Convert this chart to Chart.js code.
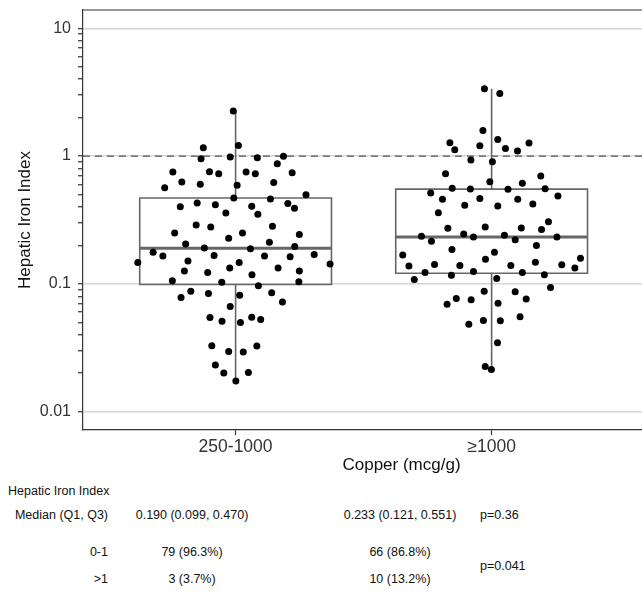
<!DOCTYPE html>
<html>
<head>
<meta charset="utf-8">
<script src="https://cdn.jsdelivr.net/npm/chart.js@4.4.1/dist/chart.umd.min.js"></script>
<style>
body { margin: 0; background: #fff; font-family: "Liberation Sans", Arial, sans-serif; overflow: hidden; }
#wrap { position: relative; width: 642px; height: 592px; overflow: hidden; }
#hiiChart { display: block; }
.t { position: absolute; font-size: 12.5px; line-height: 15px; color: #111; white-space: nowrap; }
.lab { left: 0; width: 108px; text-align: right; }
.c1 { left: 92px; width: 200px; text-align: center; }
.c2 { left: 300px; width: 200px; text-align: center; }
.p { left: 480px; }
</style>
</head>
<body>
<div id="wrap">
<canvas id="hiiChart" width="720" height="480"></canvas>
<div class="t" style="left:8px; top:484px;">Hepatic Iron Index</div>
<div class="t lab" style="top:508px;">Median (Q1, Q3)</div>
<div class="t c1" style="top:508px;">0.190 (0.099, 0.470)</div>
<div class="t c2" style="top:508px;">0.233 (0.121, 0.551)</div>
<div class="t p" style="top:508px;">p=0.36</div>
<div class="t lab" style="top:545px;">0-1</div>
<div class="t c1" style="top:545px;">79 (96.3%)</div>
<div class="t c2" style="top:545px;">66 (86.8%)</div>
<div class="t p" style="top:559px;">p=0.041</div>
<div class="t lab" style="top:572px;">&gt;1</div>
<div class="t c1" style="top:572px;">3 (3.7%)</div>
<div class="t c2" style="top:572px;">10 (13.2%)</div>
</div>
<script>
const categories = ['250-1000', '≥1000'];

// box summaries per group
const boxQ1 = [0.099, 0.121];
const boxMedian = [0.190, 0.233];
const boxQ3 = [0.470, 0.551];
const whiskerLow = [0.0174, 0.0214];
const whiskerHigh = [2.25, 3.36];

// y axis
const yMajorTicks = [0.01, 0.1, 1, 10];
const yMin = 0.00719;
const yMax = 13.9;
const refLine = 1;

// 250-1000 group: horizontal jitter (category units) and hepatic iron index
const lowCuJitter = [
  -0.009, -0.126, 0.011, -0.135, -0.021, 0.085, 0.187, 0.163, -0.245, -0.102,
  -0.066, 0.041, 0.077, 0.221, -0.210, -0.138, 0.006, 0.149, -0.277, 0.275,
  -0.007, 0.136, -0.216, -0.150, -0.079, 0.204, 0.230, -0.038, 0.063, 0.087,
  -0.154, -0.097, -0.238, -0.027, 0.027, 0.144, 0.249, -0.195, -0.122, 0.058,
  0.132, 0.231, -0.322, -0.284, -0.084, 0.113, 0.213, 0.307, -0.382, -0.186,
  0.014, -0.023, 0.369, -0.200, -0.109, 0.064, 0.166, 0.249, -0.247, -0.054,
  0.089, 0.247, -0.213, -0.175, -0.106, 0.016, 0.141, 0.183, -0.021, -0.100,
  -0.053, 0.019, 0.063, 0.098, -0.093, -0.027, 0.030, 0.083, -0.079, -0.046,
  0.050, 0.001
];
const lowCuHii = [
  2.25, 1.163, 1.212, 0.954, 0.982, 0.972, 0.995, 0.872, 0.750, 0.755,
  0.729, 0.750, 0.729, 0.742, 0.626, 0.601, 0.590, 0.620, 0.566, 0.499,
  0.470, 0.461, 0.402, 0.429, 0.417, 0.425, 0.390, 0.359, 0.405, 0.350,
  0.289, 0.279, 0.250, 0.228, 0.250, 0.282, 0.243, 0.205, 0.191, 0.188,
  0.212, 0.196, 0.177, 0.165, 0.167, 0.165, 0.163, 0.170, 0.147, 0.151,
  0.147, 0.133, 0.143, 0.126, 0.123, 0.118, 0.133, 0.126, 0.106, 0.103,
  0.0965, 0.104, 0.0783, 0.0877, 0.0841, 0.0816, 0.0851, 0.0720, 0.0666, 0.0546,
  0.0511, 0.0499, 0.0549, 0.0527, 0.0328, 0.0296, 0.0293, 0.0326, 0.0232, 0.0201,
  0.0203, 0.0174
];

// >=1000 group
const highCuJitter = [
  -0.028, 0.032, -0.034, 0.024, -0.163, -0.144, -0.046, 0.054, 0.101, 0.146,
  -0.081, 0.003, -0.180, 0.192, -0.007, 0.120, -0.154, -0.083, 0.064, 0.209,
  -0.238, -0.192, -0.046, 0.102, 0.259, -0.105, 0.024, 0.161, -0.208, 0.222,
  -0.171, -0.109, -0.071, -0.025, 0.050, 0.092, 0.116, 0.195, -0.274, -0.235,
  0.255, 0.175, -0.155, -0.347, 0.011, -0.024, 0.347, -0.323, -0.223, -0.124,
  0.075, 0.171, 0.274, 0.325, -0.260, -0.157, -0.071, 0.120, 0.206, -0.302,
  0.020, 0.230, -0.029, 0.092, -0.174, -0.138, -0.080, 0.025, 0.135, -0.089,
  -0.032, 0.034, 0.111, 0.023, -0.025, -0.001
];
const highCuHii = [
  3.36, 3.09, 1.588, 1.350, 1.273, 1.122, 1.206, 1.148, 1.094, 1.264,
  0.931, 0.904, 0.729, 0.698, 0.631, 0.612, 0.559, 0.552, 0.549, 0.556,
  0.514, 0.459, 0.465, 0.459, 0.487, 0.412, 0.407, 0.422, 0.360, 0.307,
  0.272, 0.246, 0.233, 0.279, 0.240, 0.221, 0.274, 0.266, 0.236, 0.216,
  0.233, 0.200, 0.186, 0.168, 0.177, 0.156, 0.159, 0.138, 0.142, 0.139,
  0.139, 0.148, 0.141, 0.133, 0.123, 0.117, 0.125, 0.123, 0.118, 0.108,
  0.110, 0.0937, 0.0877, 0.0866, 0.0694, 0.0769, 0.0750, 0.0707, 0.0760, 0.0484,
  0.0518, 0.0514, 0.0553, 0.0346, 0.0226, 0.0214
];

const toPoints = (jitter, vals, pos) => vals.map((v, i) => ({ x: pos + jitter[i], y: v }));

// all decade ticks plus 2..9 minor marks
const yTickValues = [];
yMajorTicks.forEach((m, i) => {
    yTickValues.push(m);
    if (i < yMajorTicks.length - 1) {
        for (let k = 2; k <= 9; k++) yTickValues.push(m * k);
    }
});

const boxPlugin = {
    id: 'boxes',
    beforeDatasetsDraw(chart) {
        const { ctx, chartArea, scales: { x, y } } = chart;
        ctx.save();
        // dashed reference line
        const yr = y.getPixelForValue(refLine);
        ctx.strokeStyle = '#555';
        ctx.lineWidth = 1.3;
        ctx.setLineDash([7, 5]);
        ctx.beginPath();
        ctx.moveTo(chartArea.left, yr);
        ctx.lineTo(chartArea.right, yr);
        ctx.stroke();
        ctx.setLineDash([]);

        const half = 0.3745;
        ctx.strokeStyle = '#666';
        for (let i = 0; i < categories.length; i++) {
            const xc = x.getPixelForValue(i + 1);
            const xl = x.getPixelForValue(i + 1 - half);
            const xr = x.getPixelForValue(i + 1 + half);
            const yq1 = y.getPixelForValue(boxQ1[i]);
            const yq3 = y.getPixelForValue(boxQ3[i]);
            const ym = y.getPixelForValue(boxMedian[i]);
            // whiskers
            ctx.lineWidth = 1.6;
            ctx.beginPath();
            ctx.moveTo(xc, y.getPixelForValue(whiskerHigh[i]));
            ctx.lineTo(xc, yq3);
            ctx.moveTo(xc, yq1);
            ctx.lineTo(xc, y.getPixelForValue(whiskerLow[i]));
            ctx.stroke();
            // box
            ctx.beginPath();
            ctx.moveTo(xl, yq3);
            ctx.lineTo(xr, yq3);
            ctx.lineTo(xr, yq1);
            ctx.lineTo(xl, yq1);
            ctx.closePath();
            ctx.stroke();
            // median
            ctx.lineWidth = 3;
            ctx.beginPath();
            ctx.moveTo(xl, ym);
            ctx.lineTo(xr, ym);
            ctx.stroke();
        }
        ctx.beginPath();
        ctx.restore();
    },
    afterDraw(chart) {
        const { ctx, chartArea } = chart;
        ctx.save();
        ctx.strokeStyle = '#333';
        ctx.lineWidth = 1.2;
        ctx.beginPath();
        ctx.moveTo(chartArea.left, chartArea.top);
        ctx.lineTo(chartArea.right, chartArea.top);
        ctx.stroke();
        ctx.beginPath();
        ctx.restore();
    }
};

Chart.defaults.font.family = '"Liberation Sans", Arial, sans-serif';

new Chart(document.getElementById('hiiChart'), {
    type: 'scatter',
    data: {
        datasets: [
            { data: toPoints(lowCuJitter, lowCuHii, 1) },
            { data: toPoints(highCuJitter, highCuHii, 2) }
        ]
    },
    options: {
        responsive: false,
        animation: false,
        events: [],
        layout: { autoPadding: false, padding: { top: 10, right: 0, bottom: 0, left: 0 } },
        elements: {
            point: { radius: 3.5, backgroundColor: '#000', borderWidth: 0 }
        },
        plugins: {
            legend: { display: false },
            tooltip: { enabled: false }
        },
        scales: {
            x: {
                type: 'linear',
                min: 0.404,
                max: 2.892,
                afterBuildTicks(scale) { scale.ticks = categories.map((c, i) => ({ value: i + 1 })); },
                afterFit(scale) {
                    scale.height = 50;
                    scale.paddingLeft = 0;
                    scale.paddingRight = 0;
                },
                ticks: {
                    autoSkip: false, maxRotation: 0, padding: 2, color: '#333',
                    font: { size: 17.5 },
                    callback(v) { return categories[v - 1]; }
                },
                grid: { drawOnChartArea: false, tickColor: '#333', tickLength: 5, tickWidth: 1.2 },
                border: { color: '#333', width: 1.2 },
                title: {
                    display: true, text: 'Copper (mcg/g)', color: '#111',
                    font: { size: 17 }, padding: { top: 0, bottom: 4 }
                }
            },
            y: {
                type: 'logarithmic',
                min: yMin,
                max: yMax,
                afterBuildTicks(scale) { scale.ticks = yTickValues.map(v => ({ value: v })); },
                afterFit(scale) {
                    scale.width = 83;
                    scale.paddingTop = 0;
                    scale.paddingBottom = 0;
                },
                ticks: {
                    autoSkip: false, padding: 7, color: '#333',
                    font: { size: 16 },
                    callback(v) { return yMajorTicks.includes(v) ? String(v) : ''; }
                },
                grid: {
                    color: c => (c.tick && yMajorTicks.includes(c.tick.value)) ? '#d4d4d4' : 'rgba(0,0,0,0)',
                    lineWidth: 1.5,
                    tickColor: '#333', tickLength: 5, tickWidth: 1.2
                },
                border: { color: '#333', width: 1.2 },
                title: {
                    display: true, text: 'Hepatic Iron Index', color: '#111',
                    font: { size: 17 }, padding: { top: 15, bottom: 0 }
                }
            }
        }
    },
    plugins: [boxPlugin]
});
</script>
</body>
</html>
